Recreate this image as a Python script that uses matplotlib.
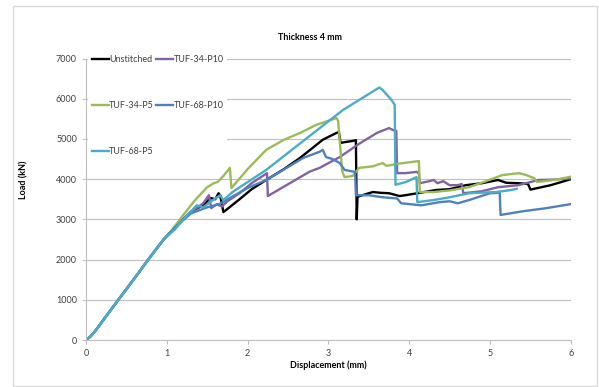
import matplotlib
matplotlib.use("Agg")
import matplotlib.pyplot as plt
from matplotlib.patches import Rectangle

plt.rcParams['font.family'] = ['Lato', 'DejaVu Sans']

# common elastic part
x0 = [0, 0.05, 0.1, 0.15, 0.2, 0.3, 0.4, 0.58, 0.77, 0.96]
y0 = [0, 80, 190, 320, 460, 730, 1000, 1480, 2000, 2500]

unst_x = x0 + [1.15, 1.3, 1.45, 1.54, 1.6, 1.64, 1.66, 1.7, 1.9, 2.05, 2.23, 2.45, 2.65, 2.93, 3.1, 3.13,
               3.15, 3.2, 3.3, 3.34, 3.35, 3.36, 3.45, 3.55, 3.65, 3.75, 3.88, 3.95, 4.1, 4.33, 4.5,
               4.7, 4.9, 5.1, 5.2, 5.35, 5.47, 5.5, 5.75, 6.0]
unst_y = y0 + [2900, 3200, 3350, 3530, 3500, 3650, 3600, 3180, 3500, 3750, 3980, 4250, 4530, 4980, 5150, 5170,
               4900, 4920, 4950, 4970, 3000, 3560, 3620, 3680, 3660, 3650, 3580, 3600, 3650, 3730, 3750,
               3850, 3900, 3980, 3910, 3900, 3880, 3740, 3850, 4000]

p10_34_x = x0 + [1.1, 1.25, 1.35, 1.45, 1.52, 1.55, 1.62, 1.68, 1.75, 1.9, 2.05, 2.24, 2.25, 2.48, 2.77,
                 2.89, 3.14, 3.38, 3.6, 3.75, 3.8, 3.84, 3.85, 3.95, 4.09, 4.12, 4.13, 4.25, 4.3, 4.35,
                 4.42, 4.5, 4.6, 4.65, 4.67, 4.9, 5.1, 5.35, 5.6, 5.8, 6.0]
p10_34_y = y0 + [2800, 3100, 3250, 3400, 3600, 3280, 3380, 3320, 3450, 3650, 3900, 4150, 3580, 3850, 4190,
                 4280, 4550, 4880, 5150, 5270, 5220, 5200, 4150, 4150, 4180, 4150, 3900, 3950, 3980, 3900,
                 3950, 3850, 3850, 3880, 3650, 3700, 3800, 3850, 3980, 3990, 4020]

p5_34_x = x0 + [1.05, 1.2, 1.35, 1.5, 1.58, 1.63, 1.7, 1.78, 1.8, 2.0, 2.23, 2.45, 2.65, 2.85, 3.1, 3.12,
                3.17, 3.2, 3.3, 3.38, 3.55, 3.67, 3.72, 3.85, 4.0, 4.12, 4.13, 4.3, 4.5, 4.74, 4.95,
                5.15, 5.36, 5.45, 5.55, 5.58, 5.8, 6.0]
p5_34_y = y0 + [2700, 3100, 3480, 3800, 3900, 3930, 4080, 4280, 3780, 4250, 4730, 4980, 5150, 5350, 5520, 5450,
                4200, 4050, 4080, 4280, 4320, 4400, 4330, 4380, 4420, 4450, 3680, 3680, 3720, 3800, 3950,
                4100, 4150, 4100, 4020, 3930, 3980, 4060]

p10_68_x = x0 + [1.1, 1.3, 1.5, 1.65, 1.78, 2.0, 2.23, 2.4, 2.69, 2.89, 2.93, 2.97, 3.05, 3.14, 3.2, 3.33,
                 3.34, 3.5, 3.67, 3.85, 3.9, 4.15, 4.38, 4.5, 4.6, 4.74, 5.0, 5.12, 5.13, 5.4, 5.7, 6.0]
p10_68_y = y0 + [2800, 3150, 3300, 3380, 3530, 3780, 3980, 4180, 4530, 4680, 4730, 4550, 4500, 4400, 4230, 4180,
                 3600, 3600, 3550, 3520, 3400, 3350, 3430, 3450, 3400, 3480, 3650, 3660, 3110, 3200, 3280, 3380]

p5_68_x = x0 + [1.1, 1.25, 1.37, 1.45, 1.55, 1.66, 1.7, 1.78, 1.82, 2.23, 2.65, 3.18, 3.63, 3.67, 3.78,
                3.82, 3.83, 3.96, 4.09, 4.1, 4.3, 4.5, 4.74, 5.08, 5.26, 5.33]
p5_68_y = y0 + [2750, 3100, 3350, 3300, 3450, 3600, 3480, 3620, 3690, 4230, 4890, 5720, 6280, 6220, 5970,
                5850, 3860, 3930, 4050, 3430, 3480, 3550, 3650, 3680, 3730, 3760]

labels = ['Unstitched', 'TUF-34-P10', 'TUF-34-P5', 'TUF-68-P10', 'TUF-68-P5']
colors = ['#000000', '#8064a2', '#9bbb59', '#4f81bd', '#4bacc6']
series = [(unst_x, unst_y), (p10_34_x, p10_34_y), (p5_34_x, p5_34_y),
          (p10_68_x, p10_68_y), (p5_68_x, p5_68_y)]

fig = plt.figure(figsize=(5.99, 3.87), dpi=100)
ax = fig.add_axes([0.1436, 0.1214, 0.8094, 0.7274])

lines = []
for (xs, ys), lab, c in zip(series, labels, colors):
    ln, = ax.plot(xs, ys, color=c, lw=1.7, label=lab)
    lines.append(ln)

ax.set_xlim(0, 6)
ax.set_ylim(0, 7000)
ax.set_xticks(range(0, 7))
ax.set_yticks(range(0, 7001, 1000))
ax.yaxis.grid(True, color='#bfbfbf', lw=0.8)
ax.set_axisbelow(True)
for s in ['top', 'right']:
    ax.spines[s].set_visible(False)
for s in ['left', 'bottom']:
    ax.spines[s].set_color('#bfbfbf')
    ax.spines[s].set_linewidth(0.8)
ax.tick_params(axis='both', labelsize=6.5, colors='#404040', length=3, width=0.8)
ax.tick_params(axis='both', color='#bfbfbf')

# legend fills row by row like the original, matplotlib fills columns
order = [0, 2, 4, 1, 3]
leg = ax.legend([lines[i] for i in order], [labels[i] for i in order],
                loc='upper left', bbox_to_anchor=(-0.005, 1.04), ncol=2, fontsize=6.5,
                frameon=True, fancybox=False, edgecolor='none', facecolor='white', framealpha=1,
                labelspacing=4.1, handlelength=1.9, handletextpad=0.05, columnspacing=0.2,
                borderpad=0.4)
for t in leg.get_texts():
    t.set_color('#404040')

fig.text(0.518, 0.904, 'Thickness 4 mm', ha='center', va='center', fontsize=6.5, fontweight='bold')
fig.text(0.04, 0.535, 'Load (kN)', ha='center', va='center', rotation=90, fontsize=6.5, fontweight='bold')
fig.text(0.548, 0.057, 'Displacement (mm)', ha='center', va='center', fontsize=6.5, fontweight='bold')

fig.patches.append(Rectangle((13 / 599, 0.002), 584 / 599, 1 - 6 / 387 - 0.002, transform=fig.transFigure,
                             fill=False, edgecolor='#d9d9d9', lw=1))

fig.savefig('out.png', dpi=100)
